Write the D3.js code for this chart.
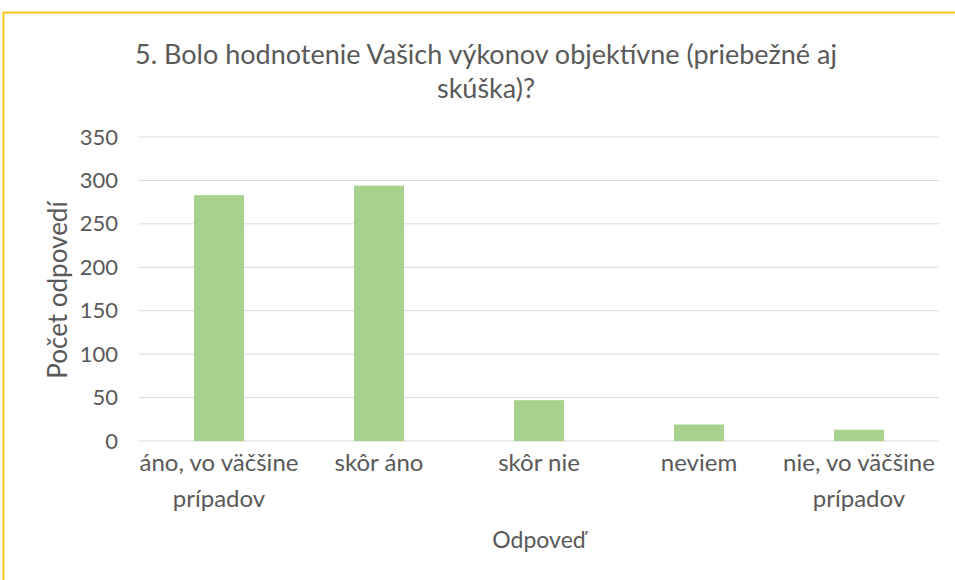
<!DOCTYPE html>
<html><head><meta charset="utf-8">
<script src="https://cdn.jsdelivr.net/npm/d3@7"></script>
<style>
html,body{margin:0;padding:0;background:#fff;}
svg{display:block;font-family:Lato,"Open Sans",sans-serif;}
</style></head>
<body><svg id="c" width="955" height="580"></svg>
<script>
const categories = [["áno, vo väčšine","prípadov"],["skôr áno"],["skôr nie"],["neviem"],["nie, vo väčšine","prípadov"]];
const values = [283, 294, 47, 19, 13];
const yTicks = [0,50,100,150,200,250,300,350];
const titleLines = ["5. Bolo hodnotenie Vašich výkonov objektívne (priebežné aj","skúška)?"];
const yTitle = "Počet odpovedí";
const xTitle = "Odpoveď";

const svg = d3.select("#c");
const W = 955, H = 580;
const m = {left:139, right:16, top:137, bottom:139};
const textColor = "#595959";
const FONT = "Lato,'Open Sans',sans-serif";

svg.append("rect").attr("x",3.5).attr("y",12.5).attr("width",970).attr("height",620)
  .attr("fill","#fff").attr("stroke","#FFC000").attr("stroke-width",1.75);

const x = d3.scaleBand().domain(d3.range(categories.length))
  .range([m.left, W - m.right]).paddingInner(0.6875).paddingOuter(0.34375);
const y = d3.scaleLinear().domain([0,350]).range([H - m.bottom, m.top]);

svg.append("g").selectAll("line").data(yTicks).join("line")
  .attr("x1", m.left).attr("x2", W - m.right)
  .attr("y1", d=>y(d)).attr("y2", d=>y(d))
  .attr("stroke","#d9d9d9").attr("stroke-width",1);

const yAxis = d3.axisLeft(y).tickValues(yTicks).tickSize(0).tickPadding(21);
const gy = svg.append("g").attr("transform",`translate(${m.left},0)`).call(yAxis);
gy.select(".domain").remove();
gy.selectAll("text").attr("fill",textColor).style("font-size","22px").style("font-family",FONT);

svg.append("g").selectAll("rect").data(values).join("rect")
  .attr("x",(d,i)=>x(i)).attr("width",x.bandwidth())
  .attr("y",d=>y(d)).attr("height",d=>y(0)-y(d))
  .attr("fill","#A9D18E");

const xl = svg.append("g");
categories.forEach((lines,i)=>{
  const t = xl.append("text").attr("text-anchor","middle").attr("fill",textColor)
    .style("font-size","24px");
  lines.forEach((s,j)=>{
    t.append("tspan").attr("x", x(i)+x.bandwidth()/2).attr("y", 471 + j*36).text(s);
  });
});

const tt = svg.append("text").attr("text-anchor","middle").attr("fill",textColor).style("font-size","27px");
titleLines.forEach((s,j)=>{
  tt.append("tspan").attr("x", 486).attr("y", 64 + j*34).text(s);
});

svg.append("text").attr("transform","translate(67,290) rotate(-90)")
  .attr("text-anchor","middle").attr("fill",textColor).style("font-size","26px").text(yTitle);

svg.append("text").attr("x", 539).attr("y", 548).attr("text-anchor","middle")
  .attr("fill",textColor).style("font-size","23px").text(xTitle);
</script></body></html>
